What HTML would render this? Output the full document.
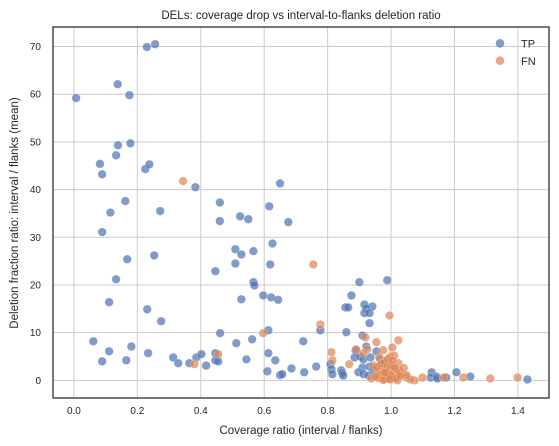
<!DOCTYPE html>
<html><head><meta charset="utf-8"><style>
html,body{margin:0;padding:0;background:#fff;}
svg{display:block;font-family:"Liberation Sans","DejaVu Sans",sans-serif;}
</style></head><body>
<svg id="chart" width="559" height="446" viewBox="0 0 559 446">
<rect width="559" height="446" fill="#fff"/>
<text x="301" y="19" text-anchor="middle" font-size="11.5" fill="#262626">DELs: coverage drop vs interval-to-flanks deletion ratio</text>
<g id="grid"></g>
<g id="marks"></g>
<rect x="53" y="27" width="496" height="371" fill="none" stroke="#262626" stroke-width="1.25"/>
<g id="ticks"></g>
<text x="301" y="434" text-anchor="middle" font-size="11.5" fill="#262626">Coverage ratio (interval / flanks)</text>
<text transform="translate(18,213) rotate(-90)" text-anchor="middle" font-size="11.5" fill="#262626">Deletion fraction ratio: interval / flanks (mean)</text>
<g>
<circle cx="500" cy="43.3" r="4.3" fill="#4c72b0" fill-opacity="0.7"/>
<text x="521" y="47.5" font-size="11" fill="#262626">TP</text>
<circle cx="500" cy="60.7" r="4.3" fill="#dd8452" fill-opacity="0.7"/>
<text x="521" y="65" font-size="11" fill="#262626">FN</text>
</g>
</svg>
<script>
const xTicks = [0.0, 0.2, 0.4, 0.6, 0.8, 1.0, 1.2, 1.4];
const yTicks = [0, 10, 20, 30, 40, 50, 60, 70];
const tpX = [0.007,0.082,0.089,0.138,0.175,0.139,0.178,0.133,0.23,0.256,0.225,0.238,0.383,0.162,0.115,0.272,0.46,0.46,0.524,0.55,0.616,0.65,
0.089,0.253,0.168,0.133,0.111,0.231,0.275,0.061,0.111,0.089,0.181,0.165,0.234,0.313,0.329,0.364,0.386,0.402,0.417,0.446,0.446,0.455,0.461,0.446,
0.509,0.528,0.566,0.509,0.566,0.569,0.528,0.597,0.622,0.626,0.619,0.512,0.562,0.544,0.613,0.61,0.613,0.635,0.65,0.676,0.644,
0.9,0.988,0.875,0.856,0.865,0.916,0.941,0.922,0.916,0.932,0.932,0.777,0.859,0.723,0.91,0.922,0.888,0.885,0.903,0.913,0.935,0.954,0.966,
0.91,0.932,0.809,0.812,0.815,0.843,0.846,0.849,0.764,0.726,0.686,0.657,0.897,0.913,1.128,1.125,1.143,1.146,1.174,1.206,1.25,1.43,0.945,0.975,0.99,0.93];
const tpY = [59.2,45.4,43.2,62.1,59.8,49.3,49.7,47.2,69.9,70.5,44.3,45.3,40.5,37.6,35.2,35.5,37.3,33.4,34.4,33.8,36.5,41.3,
31.1,26.2,25.4,21.2,16.4,14.9,12.4,8.2,6.1,4.0,7.1,4.2,5.7,4.8,3.6,3.6,4.8,5.5,3.1,5.7,4.2,4.0,9.9,22.9,
27.5,26.4,27.1,24.5,20.6,19.9,17.0,17.8,17.4,28.7,24.3,7.8,8.6,4.4,5.7,1.9,10.5,4.2,1.1,33.2,16.9,
20.6,21.0,17.8,15.3,15.3,15.9,15.5,15.1,14.1,14.1,12.0,10.5,10.1,8.2,9.4,7.1,6.3,4.8,5.0,4.4,4.8,6.1,4.4,
2.7,2.9,3.4,2.3,1.3,2.1,1.5,1.0,2.9,1.7,2.5,1.3,1.7,1.3,1.7,0.6,0.8,0.4,0.6,1.7,0.8,0.2,2.2,3.5,1.5,1.0];
const fnX = [0.344,0.38,0.455,0.597,0.755,0.995,0.777,0.919,1.023,0.954,0.812,0.815,0.868,1.004,0.975,0.89,0.925,1.01,0.963,0.998,1.023,0.944,0.913,
1.099,1.074,1.165,1.228,1.313,1.399,0.938,1.049,1.061,1.036,1.02,1.049,
0.96,0.97,0.98,0.99,1.0,1.01,1.02,0.965,0.975,0.985,0.995,1.005,1.015,1.025,0.97,0.98,0.99,1.0,1.01,0.96,0.985,1.0,1.015,0.95,1.03,0.99,1.005,0.975,0.995,1.04,0.955,0.98];
const fnY = [41.8,3.4,5.5,9.9,24.3,13.6,11.7,9.0,8.4,8.0,5.9,4.2,3.4,6.9,6.3,6.5,6.5,5.2,4.8,5.0,3.6,3.1,5.7,
0.6,0.0,0.6,0.6,0.4,0.6,0.4,0.6,0.2,1.3,0.0,1.1,
0.5,1.0,0.3,0.8,0.2,0.6,1.2,2.0,2.5,1.8,2.2,1.5,2.4,2.0,3.5,4.0,3.0,3.2,2.8,1.2,0.6,1.0,0.4,0.8,0.9,4.5,4.2,0.1,0.3,2.6,2.8,1.6];
const NS = 'http://www.w3.org/2000/svg';
const X0 = 53, X1 = 549, Y0 = 398, Y1 = 27;
const xMin = -0.066, xMax = 1.498, yMin = -3.7, yMax = 74.1;
function sx(v){ return X0 + (v - xMin) / (xMax - xMin) * (X1 - X0); }
function sy(v){ return Y0 - (v - yMin) / (yMax - yMin) * (Y0 - Y1); }
const grid = document.getElementById('grid');
const ticks = document.getElementById('ticks');
const marks = document.getElementById('marks');
xTicks.forEach(t => {
  const l = document.createElementNS(NS, 'line');
  l.setAttribute('x1', sx(t)); l.setAttribute('x2', sx(t));
  l.setAttribute('y1', Y1); l.setAttribute('y2', Y0);
  l.setAttribute('stroke', '#cccccc'); l.setAttribute('stroke-width', '1');
  
  
  grid.appendChild(l);
  const tx = document.createElementNS(NS, 'text');
  tx.setAttribute('x', sx(t)); tx.setAttribute('y', 414);
  tx.setAttribute('text-anchor', 'middle'); tx.setAttribute('font-size', '10'); tx.setAttribute('fill', '#262626');
  tx.textContent = t.toFixed(1);
  
  
  ticks.appendChild(tx);
});
yTicks.forEach(t => {
  const l = document.createElementNS(NS, 'line');
  l.setAttribute('x1', X0); l.setAttribute('x2', X1);
  l.setAttribute('y1', sy(t)); l.setAttribute('y2', sy(t));
  l.setAttribute('stroke', '#cccccc'); l.setAttribute('stroke-width', '1');
  
  
  grid.appendChild(l);
  const tx = document.createElementNS(NS, 'text');
  tx.setAttribute('x', 41); tx.setAttribute('y', sy(t) + 3.5);
  tx.setAttribute('text-anchor', 'end'); tx.setAttribute('font-size', '10'); tx.setAttribute('fill', '#262626');
  tx.textContent = String(t);
  
  
  ticks.appendChild(tx);
});
function drawSeries(xs, ys, color, name){
  xs.forEach((v, i) => {
    const c = document.createElementNS(NS, 'circle');
    c.setAttribute('cx', sx(v)); c.setAttribute('cy', sy(ys[i]));
    c.setAttribute('r', 4.3);
    c.setAttribute('fill', color); c.setAttribute('fill-opacity', '0.7');
    c.setAttribute('stroke', '#ffffff'); c.setAttribute('stroke-opacity', '0.5'); c.setAttribute('stroke-width', '0.5');
    
    
    marks.appendChild(c);
  });
}
drawSeries(tpX, tpY, '#4c72b0', 'tp-point');
drawSeries(fnX, fnY, '#dd8452', 'fn-point');
</script>
</body></html>
